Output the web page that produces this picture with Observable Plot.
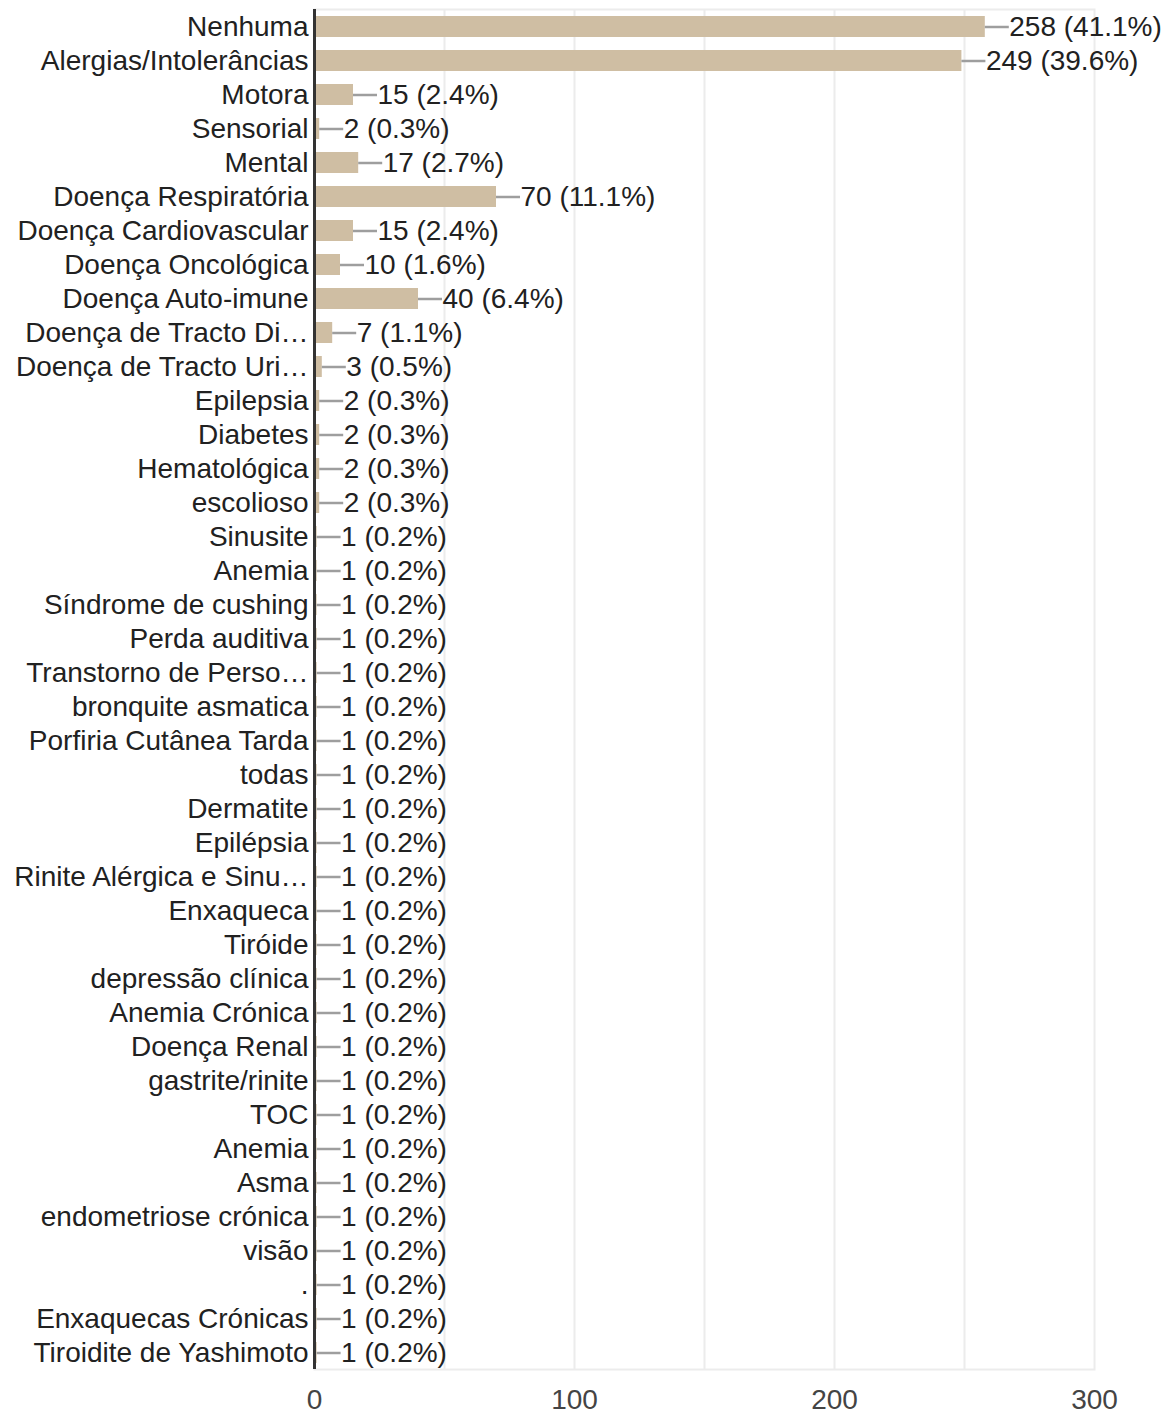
<!DOCTYPE html>
<html>
<head>
<meta charset="utf-8">
<script src="https://cdn.jsdelivr.net/npm/d3@7"></script>
<script src="https://cdn.jsdelivr.net/npm/@observablehq/plot@0.6"></script>
<style>
  html, body { margin: 0; padding: 0; background: #fff; }
  #chart svg { display: block; }
</style>
</head>
<body>
<div id="chart"></div>
<script>
const categories = [
  "Nenhuma", "Alergias/Intolerâncias", "Motora", "Sensorial", "Mental",
  "Doença Respiratória", "Doença Cardiovascular", "Doença Oncológica", "Doença Auto-imune",
  "Doença de Tracto Di…", "Doença de Tracto Uri…", "Epilepsia", "Diabetes", "Hematológica",
  "escolioso", "Sinusite", "Anemia", "Síndrome de cushing", "Perda auditiva",
  "Transtorno de Perso…", "bronquite asmatica", "Porfiria Cutânea Tarda", "todas", "Dermatite",
  "Epilépsia", "Rinite Alérgica e Sinu…", "Enxaqueca", "Tiróide", "depressão clínica",
  "Anemia Crónica", "Doença Renal", "gastrite/rinite", "TOC", "Anemia", "Asma",
  "endometriose crónica", "visão", ".", "Enxaquecas Crónicas", "Tiroidite de Yashimoto"
];
const counts = [
  258, 249, 15, 2, 17, 70, 15, 10, 40, 7, 3, 2, 2, 2, 2,
  1, 1, 1, 1, 1, 1, 1, 1, 1, 1, 1, 1, 1, 1, 1, 1, 1, 1, 1, 1, 1, 1, 1, 1, 1
];
const percents = [
  "41.1%", "39.6%", "2.4%", "0.3%", "2.7%", "11.1%", "2.4%", "1.6%", "6.4%", "1.1%", "0.5%",
  "0.3%", "0.3%", "0.3%", "0.3%",
  "0.2%", "0.2%", "0.2%", "0.2%", "0.2%", "0.2%", "0.2%", "0.2%", "0.2%", "0.2%", "0.2%",
  "0.2%", "0.2%", "0.2%", "0.2%", "0.2%", "0.2%", "0.2%", "0.2%", "0.2%", "0.2%", "0.2%",
  "0.2%", "0.2%", "0.2%"
];
const xTicks = [0, 100, 200, 300];
const xGrid = [50, 100, 150, 200, 250];

const W = 1168, H = 1414;
const mL = 314, mR = 74, mT = 9, mB = 45;
const xMax = 300;
const pxPerUnit = (W - mL - mR) / xMax;
const leaderPx = 24;
const FONT = "'Liberation Sans', Arial, Helvetica, sans-serif";
const FS = 28;

const data = categories.map((c, i) => ({
  i, cat: c, v: counts[i],
  end: counts[i] + leaderPx / pxPerUnit,
  label: `${counts[i]} (${percents[i]})`
}));

const chart = Plot.plot({
  width: W, height: H,
  marginLeft: mL, marginRight: mR, marginTop: mT, marginBottom: mB,
  style: { fontFamily: FONT, fontSize: FS + "px", background: "#fff", color: "#212121" },
  x: { domain: [0, xMax], label: null },
  y: { domain: d3.range(categories.length), label: null, paddingInner: 0.39, paddingOuter: 0.195 },
  marks: [
    Plot.frame({ stroke: "#ececec", strokeWidth: 2 }),
    Plot.ruleX(xGrid, { stroke: "#ececec", strokeWidth: 2 }),
    Plot.barX(data, { y: "i", x: "v", fill: "#cfbea3" }),
    Plot.ruleY(data, { y: "i", x1: "v", x2: "end", stroke: "#9e9e9e", strokeWidth: 2.5 }),
    Plot.text(data, { y: "i", x: "end", text: "label", dx: 0, textAnchor: "start", fontSize: FS, fill: "#212121" }),
    Plot.axisY({ tickSize: 0, tickPadding: 6, tickFormat: i => categories[i], fontSize: FS, fill: "#212121" }),
    Plot.axisX({ ticks: xTicks, tickSize: 0, tickPadding: 20, fontSize: FS, fill: "#444" }),
    Plot.ruleX([0], { stroke: "#333", strokeWidth: 3 })
  ]
});
document.getElementById("chart").appendChild(chart);
</script>
</body>
</html>
